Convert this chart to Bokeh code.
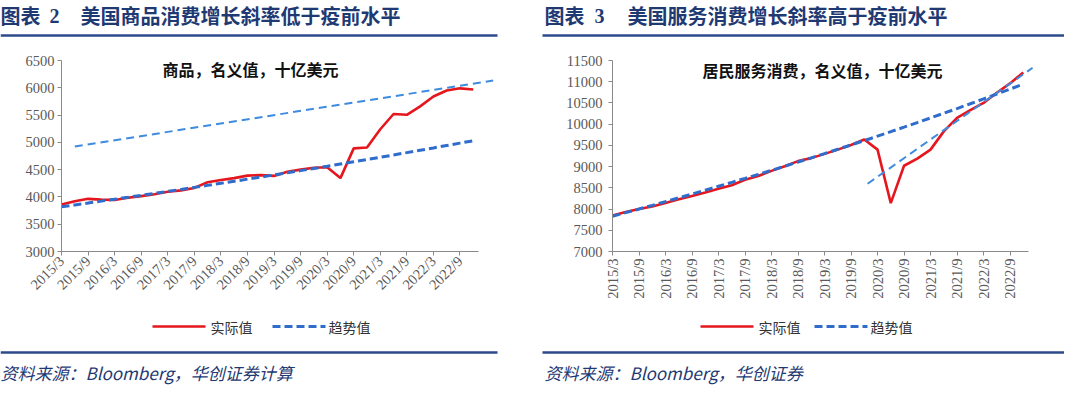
import math
from bokeh.plotting import figure
from bokeh.models import Range1d, FixedTicker, Label
from bokeh.layouts import column, row
from bokeh.embed import file_html
from bokeh.resources import INLINE

# ---------------- data ----------------
quarters = ["2015/3", "2015/6", "2015/9", "2015/12", "2016/3", "2016/6", "2016/9", "2016/12",
            "2017/3", "2017/6", "2017/9", "2017/12", "2018/3", "2018/6", "2018/9", "2018/12",
            "2019/3", "2019/6", "2019/9", "2019/12", "2020/3", "2020/6", "2020/9", "2020/12",
            "2021/3", "2021/6", "2021/9", "2021/12", "2022/3", "2022/6", "2022/9", "2022/12"]
tick_labels = ["2015/3", "2015/9", "2016/3", "2016/9", "2017/3", "2017/9", "2018/3", "2018/9",
               "2019/3", "2019/9", "2020/3", "2020/9", "2021/3", "2021/9", "2022/3", "2022/9"]
series_names = ["实际值", "趋势值"]

goods_actual = [3860, 3920, 3965, 3950, 3945, 3985, 4015, 4050, 4095, 4120, 4165, 4270,
                4310, 4345, 4390, 4400, 4385, 4460, 4500, 4535, 4545, 4345, 4890, 4905,
                5240, 5520, 5505, 5660, 5840, 5950, 5990, 5970]
goods_trend = [3820, 3854, 3888, 3923, 3958, 3993, 4029, 4065, 4101, 4138, 4175, 4212,
               4249, 4287, 4326, 4364, 4403, 4442, 4482, 4522, 4562, 4603, 4644, 4685,
               4727, 4769, 4812, 4855, 4898, 4942, 4986, 5030]
goods_guide_x = [1.0, 32.5]
goods_guide_y = [4923, 6133]

services_actual = [7850, 7930, 8000, 8060, 8140, 8230, 8310, 8390, 8480, 8560, 8690, 8780,
                   8900, 9010, 9130, 9200, 9300, 9400, 9510, 9640, 9400, 8140, 9020, 9190,
                   9400, 9830, 10150, 10330, 10500, 10740, 10960, 11220]
services_trend = [7830, 7915, 8001, 8088, 8176, 8264, 8354, 8445, 8537, 8629, 8723, 8818,
                  8913, 9010, 9108, 9207, 9307, 9408, 9510, 9613, 9718, 9823, 9930, 10038,
                  10147, 10257, 10368, 10481, 10595, 10710, 10826, 10944]
services_guide_x = [19.25, 31.7]
services_guide_y = [8596, 11328]

# ---------------- styles ----------------
NAVY = "#1F3A73"
LINE_NAVY = "#2C4A8A"
RED = "#E5161D"
BLUE = "#2F6CCB"
LIGHT_BLUE = "#3E8BDF"
GREY = "#595959"
AXIS = "#8A8A8A"
CJK = "Noto Sans CJK SC"
SERIF = "Liberation Serif"

MAIN_H = 256


def make_panel(actual, trend, gx, gy, y0, y1, inner_title, tx, ty,
               b_left, b_right, x_end, angle, ystand):
    p = figure(width=532, height=MAIN_H, output_backend="svg", toolbar_location=None,
               x_range=Range1d(0, x_end), y_range=Range1d(y0, y1),
               min_border_left=b_left, min_border_right=b_right,
               min_border_top=12, min_border_bottom=MAIN_H - 12 - 191)
    p.outline_line_color = None
    p.grid.visible = False
    p.background_fill_color = "white"
    p.border_fill_color = "white"

    xs = list(range(len(quarters)))
    p.line(xs, actual, line_color=RED, line_width=2.6)
    p.line(xs, trend, line_color=BLUE, line_width=3, line_dash="8 4")
    p.line(gx, gy, line_color=LIGHT_BLUE, line_width=2, line_dash="8 5")

    xt = list(range(0, len(quarters), 2))
    p.xaxis.ticker = FixedTicker(ticks=xt)
    p.xaxis.major_label_overrides = {t: lab for t, lab in zip(xt, tick_labels)}
    p.xaxis.major_label_orientation = angle
    p.xaxis.bounds = (0, 31.4)
    p.yaxis.ticker = FixedTicker(ticks=list(range(y0, y1 + 1, 500)))
    for ax in (p.xaxis, p.yaxis):
        ax.axis_line_color = AXIS
        ax.major_tick_line_color = AXIS
        ax.major_tick_in = 0
        ax.major_tick_out = 4
        ax.minor_tick_line_color = None
        ax.major_label_text_font = SERIF
        ax.major_label_text_font_size = "14.5px"
        ax.major_label_text_color = GREY
    p.xaxis.major_label_standoff = 3
    p.yaxis.major_label_standoff = ystand

    p.add_layout(Label(x=tx, y=ty, text=inner_title, text_font=CJK, text_font_style="bold",
                       text_font_size="16px", text_color="#111111", text_baseline="middle"))
    return p


left = make_panel(goods_actual, goods_trend, goods_guide_x, goods_guide_y, 3000, 6500,
                  "商品，名义值，十亿美元", 7.6, 6350, 61, 38, 32.6, math.pi / 4, 3)
right = make_panel(services_actual, services_trend, services_guide_x, services_guide_y,
                   7000, 11500, "居民服务消费，名义值，十亿美元", 6.8, 11280, 80, 31, 31.77,
                   math.pi / 2, 6)

# ---------------- header band ----------------
top = figure(width=1064, height=48, output_backend="svg", toolbar_location=None,
             x_range=Range1d(0, 1064), y_range=Range1d(48, 0),
             x_axis_location=None, y_axis_location=None, min_border=0)
top.grid.visible = False
top.outline_line_color = None
top.segment(x0=[0, 542], y0=[35, 35], x1=[497, 1064], y1=[35, 35],
            line_color=LINE_NAVY, line_width=2.6)
for x, txt, font in [(0, "图表", CJK), (49, "2", SERIF), (80, "美国商品消费增长斜率低于疫前水平", CJK),
                     (544, "图表", CJK), (594, "3", SERIF), (627, "美国服务消费增长斜率高于疫前水平", CJK)]:
    top.add_layout(Label(x=x, y=15, text=txt, text_font=font, text_font_style="bold",
                         text_font_size="20px", text_color=NAVY, text_baseline="middle"))

# ---------------- footer band (legend + source) ----------------
BOT_H = 82
bottom = figure(width=1064, height=BOT_H, output_backend="svg", toolbar_location=None,
                x_range=Range1d(0, 1064), y_range=Range1d(BOT_H, 0),
                x_axis_location=None, y_axis_location=None, min_border=0)
bottom.grid.visible = False
bottom.outline_line_color = None

LEG_Y = 22
for x_red, x_blue in [(152, 272), (700, 814)]:
    bottom.line([x_red, x_red + 53], [LEG_Y, LEG_Y], line_color=RED, line_width=2.6)
    bottom.line([x_blue, x_blue + 53], [LEG_Y, LEG_Y], line_color=BLUE, line_width=3,
                line_dash="8 4")
    for xt_, name in zip([x_red + 58, x_blue + 56], series_names):
        bottom.add_layout(Label(x=xt_, y=LEG_Y, text=name, text_font=CJK,
                                text_font_size="14px", text_color="#333333",
                                text_baseline="middle"))

bottom.segment(x0=[0, 542], y0=[48, 48], x1=[497, 1064], y1=[48, 48],
               line_color=LINE_NAVY, line_width=2.6)
for x, txt in [(0, "资料来源：Bloomberg，华创证券计算"), (544, "资料来源：Bloomberg，华创证券")]:
    bottom.add_layout(Label(x=x, y=68, text=txt, text_font=CJK, text_font_style="italic",
                            text_font_size="17px", text_color=NAVY, text_baseline="middle"))

layout = column(top, row(left, right), bottom)
open("out.html", "w").write(file_html(layout, INLINE))
